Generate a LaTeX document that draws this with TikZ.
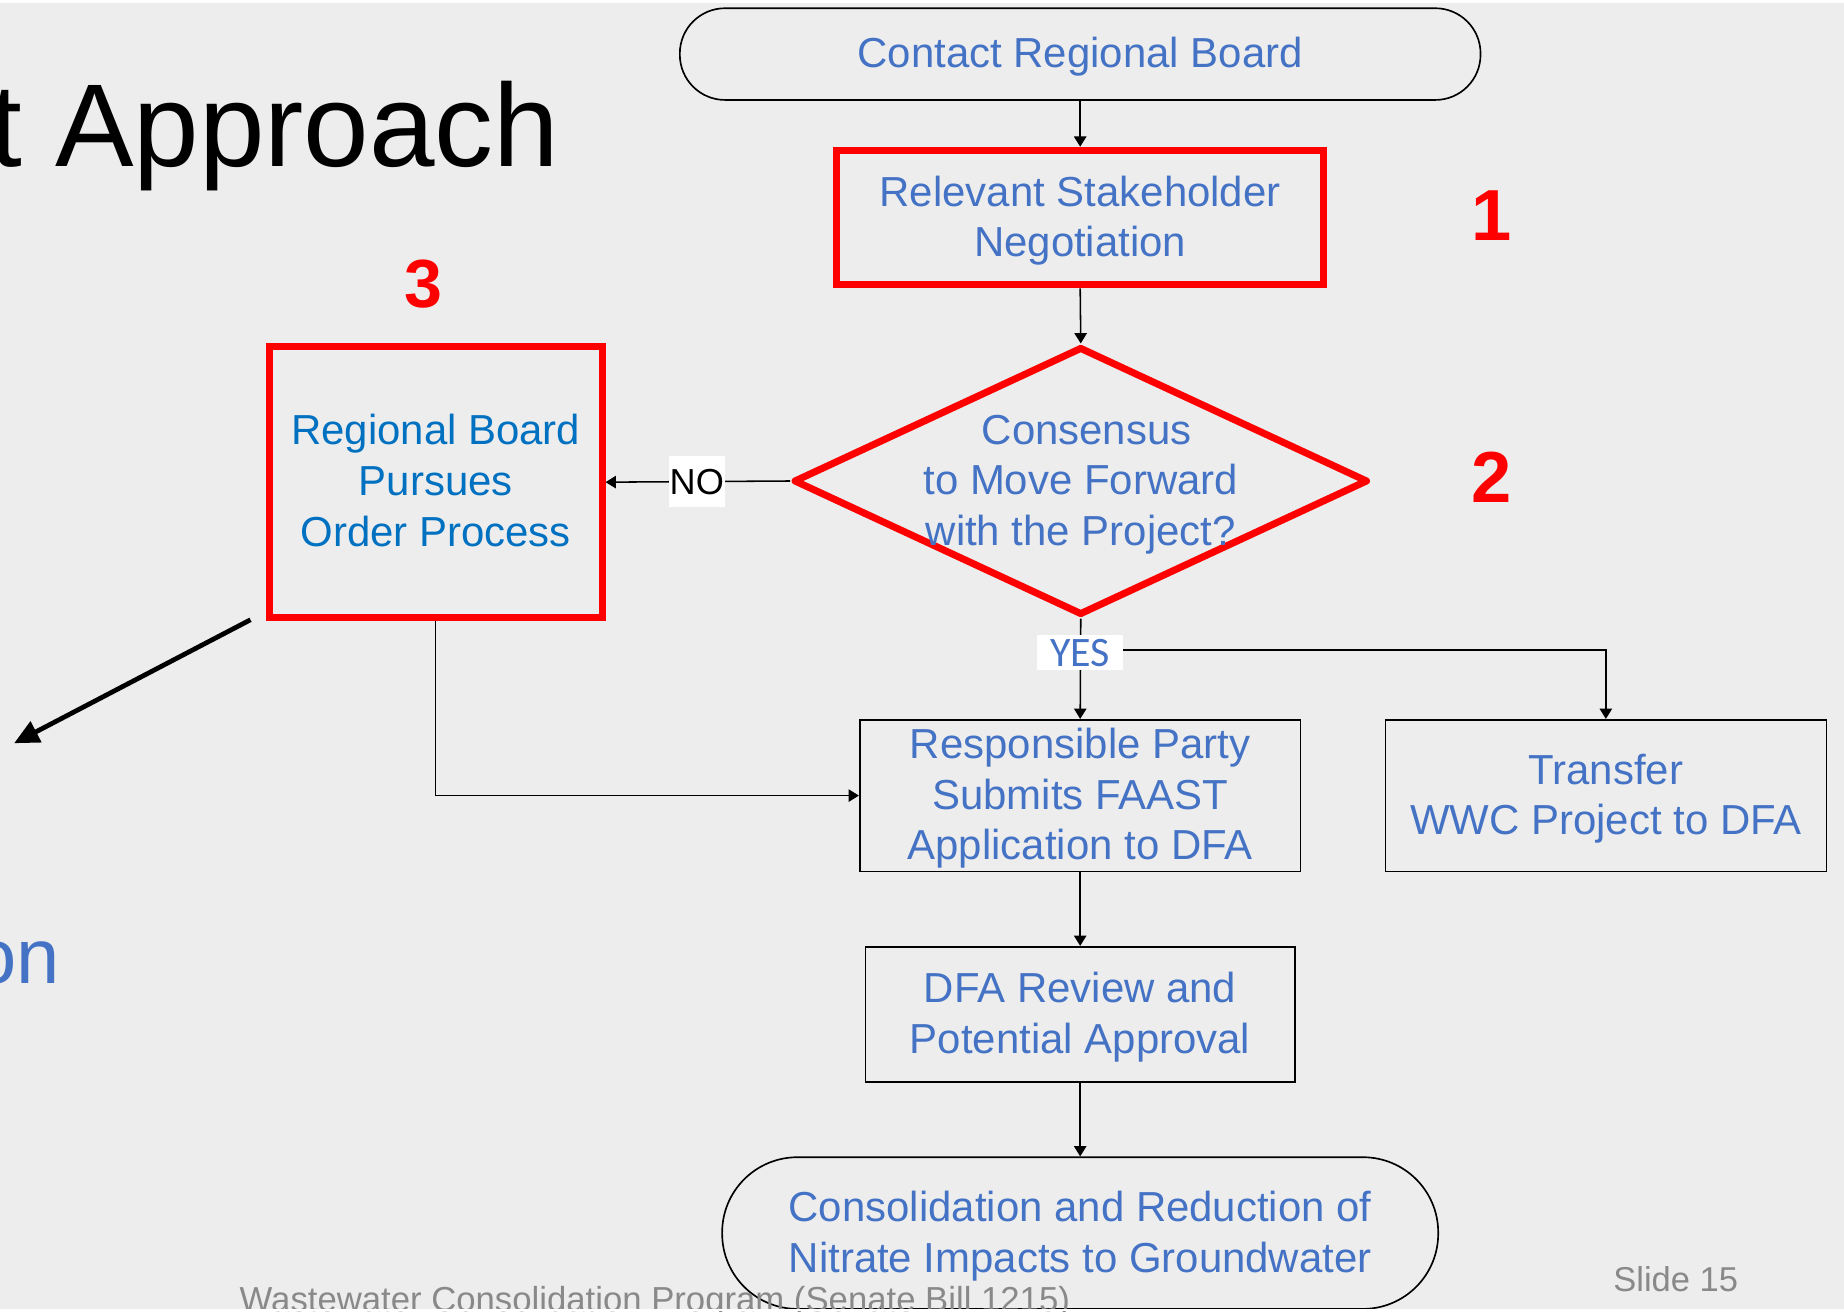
\documentclass[tikz,border=0pt]{standalone}
\usepackage{fontspec}
\setmainfont{Liberation Sans}
\newfontfamily\calibrifont{Carlito}
\usetikzlibrary{arrows.meta,shapes.geometric}
\definecolor{bg}{HTML}{EDEDED}
\definecolor{nodeblue}{HTML}{4472C4}
\definecolor{rbblue}{HTML}{0070C0}
\definecolor{footgray}{HTML}{898989}
\tikzset{
  txt/.style={font=\fontsize{20.3}{24.5}\selectfont, text=nodeblue, align=center, inner sep=0pt},
  txtdown/.style={txt, yshift=-0.05cm},
  flowbox/.style={draw=black, line width=0.8pt, rectangle, inner sep=0pt},
  redbox/.style={draw=red, line width=3.4pt, rectangle, inner sep=0pt},
  stadium/.style={flowbox, rounded corners=#1},
  conn/.style={draw=black, line width=0.75pt, -{Triangle[length=5pt,width=6pt]}},
  bignum/.style={font=\fontsize{35}{40}\selectfont\bfseries, text=red, inner sep=0pt},
  tagbox/.style={fill=white, inner sep=0pt},
  plain/.style={anchor=base west, inner sep=0pt},
}
\begin{document}
\begin{tikzpicture}[x=0.02cm,y=-0.02cm]
\useasboundingbox (0,0) rectangle (1568,1115);
\clip (0,0) rectangle (1568,1115);
\fill[white] (0,0) rectangle (1568,1115);
\fill[bg] (0,2.5) rectangle (1568,1115);

% slide text fragments
\node[plain, font=\fontsize{57}{68}\selectfont] (title) at (-9,142) {t Approach};
\node[plain, font=\fontsize{37.6}{45}\selectfont, text=nodeblue] (leftword) at (-23,836) {on};

% shapes
\node[stadium=0.77cm, minimum width=13.62cm, minimum height=1.56cm] (contact) at (918.5,46) {};
\node[redbox, minimum width=8.28cm, minimum height=2.29cm] (rel) at (918.5,185) {};
\node[draw=red, line width=3.4pt, line join=round, diamond, minimum width=9.77cm, minimum height=4.56cm, inner sep=0pt] (dia) at (919,409) {};
\node[redbox, minimum width=5.66cm, minimum height=4.6cm] (reg) at (370.5,410) {};
\node[flowbox, minimum width=7.5cm, minimum height=2.58cm] (resp) at (918.5,676.5) {};
\node[flowbox, minimum width=7.5cm, minimum height=2.58cm] (trans) at (1365.5,676.5) {};
\node[flowbox, minimum width=7.3cm, minimum height=2.3cm] (dfa) at (918.5,862.5) {};
\node[stadium=1.28cm, minimum width=12.18cm, minimum height=2.58cm] (cons) at (918.5,1048.5) {};

% node texts
\node[txtdown] (contacttext) at (contact.center) {Contact Regional Board};
\node[txtdown] (reltext) at (rel.center) {Relevant Stakeholder\\Negotiation};
\node[txt, yshift=-0.08cm] (diatext) at (919,408) {\hspace*{0.2cm}Consensus\\to Move Forward\\with the Project?};
\node[txt, text=rbblue] (regtext) at (370.5,408.5) {Regional Board\\Pursues\\Order Process};
\node[txtdown] (resptext) at (resp.center) {Responsible Party\\Submits FAAST\\Application to DFA};
\node[txtdown] (transtext) at (trans.center) {Transfer\\WWC Project to DFA};
\node[txtdown] (dfatext) at (dfa.center) {DFA Review and\\Potential Approval};
\node[txtdown] (constext) at (cons.center) {Consolidation and Reduction of\\Nitrate Impacts to Groundwater};

% numbers
\node[bignum] (n1) at (1268.5,183) {1};
\node[bignum] (n2) at (1268.5,406) {2};
\node[bignum, font=\fontsize{33}{40}\selectfont\bfseries] (n3) at (360,241.5) {3};

% connectors
\draw[conn] (contact.south) -- (rel.north);
\draw[conn] (rel.south) -- (dia.north);
\draw[conn] (dia.south) -- (resp.north);
\coordinate (br) at (918.5,552.5);
\draw[conn] (br) -| (trans.north);
\draw[conn] (dia.west) -- (reg.east);
\draw[conn] (reg.south) |- (resp.west);
\draw[conn] (resp.south) -- (dfa.north);
\draw[conn] (dfa.south) -- (cons.north);

% labels
\node[tagbox, minimum width=1.46cm, minimum height=0.6cm, font=\calibrifont\fontsize{20.3}{24}\selectfont, text=nodeblue] (yes) at (918.5,555) {YES};
\node[tagbox, minimum width=0.95cm, minimum height=0.86cm, font=\fontsize{17.5}{20}\selectfont, text=black] (no) at (592.5,409.5) {NO};

% thick arrow
\coordinate (ts) at (213,527);
\coordinate (te) at (12,632);
\draw[line width=2.3pt, -{Triangle[length=12pt,width=11pt]}] (ts) -- (te);

% footer
\node[plain, font=\fontsize{16.8}{20}\selectfont, text=footgray] (footer) at (203.5,1115) {Wastewater Consolidation Program (Senate Bill 1215)};
\node[plain, font=\fontsize{16.7}{20}\selectfont, text=footgray] (slide) at (1371.5,1098) {Slide 15};

\fill[white] (0,1113.3) rectangle (1568,1115);
\end{tikzpicture}
\end{document}
